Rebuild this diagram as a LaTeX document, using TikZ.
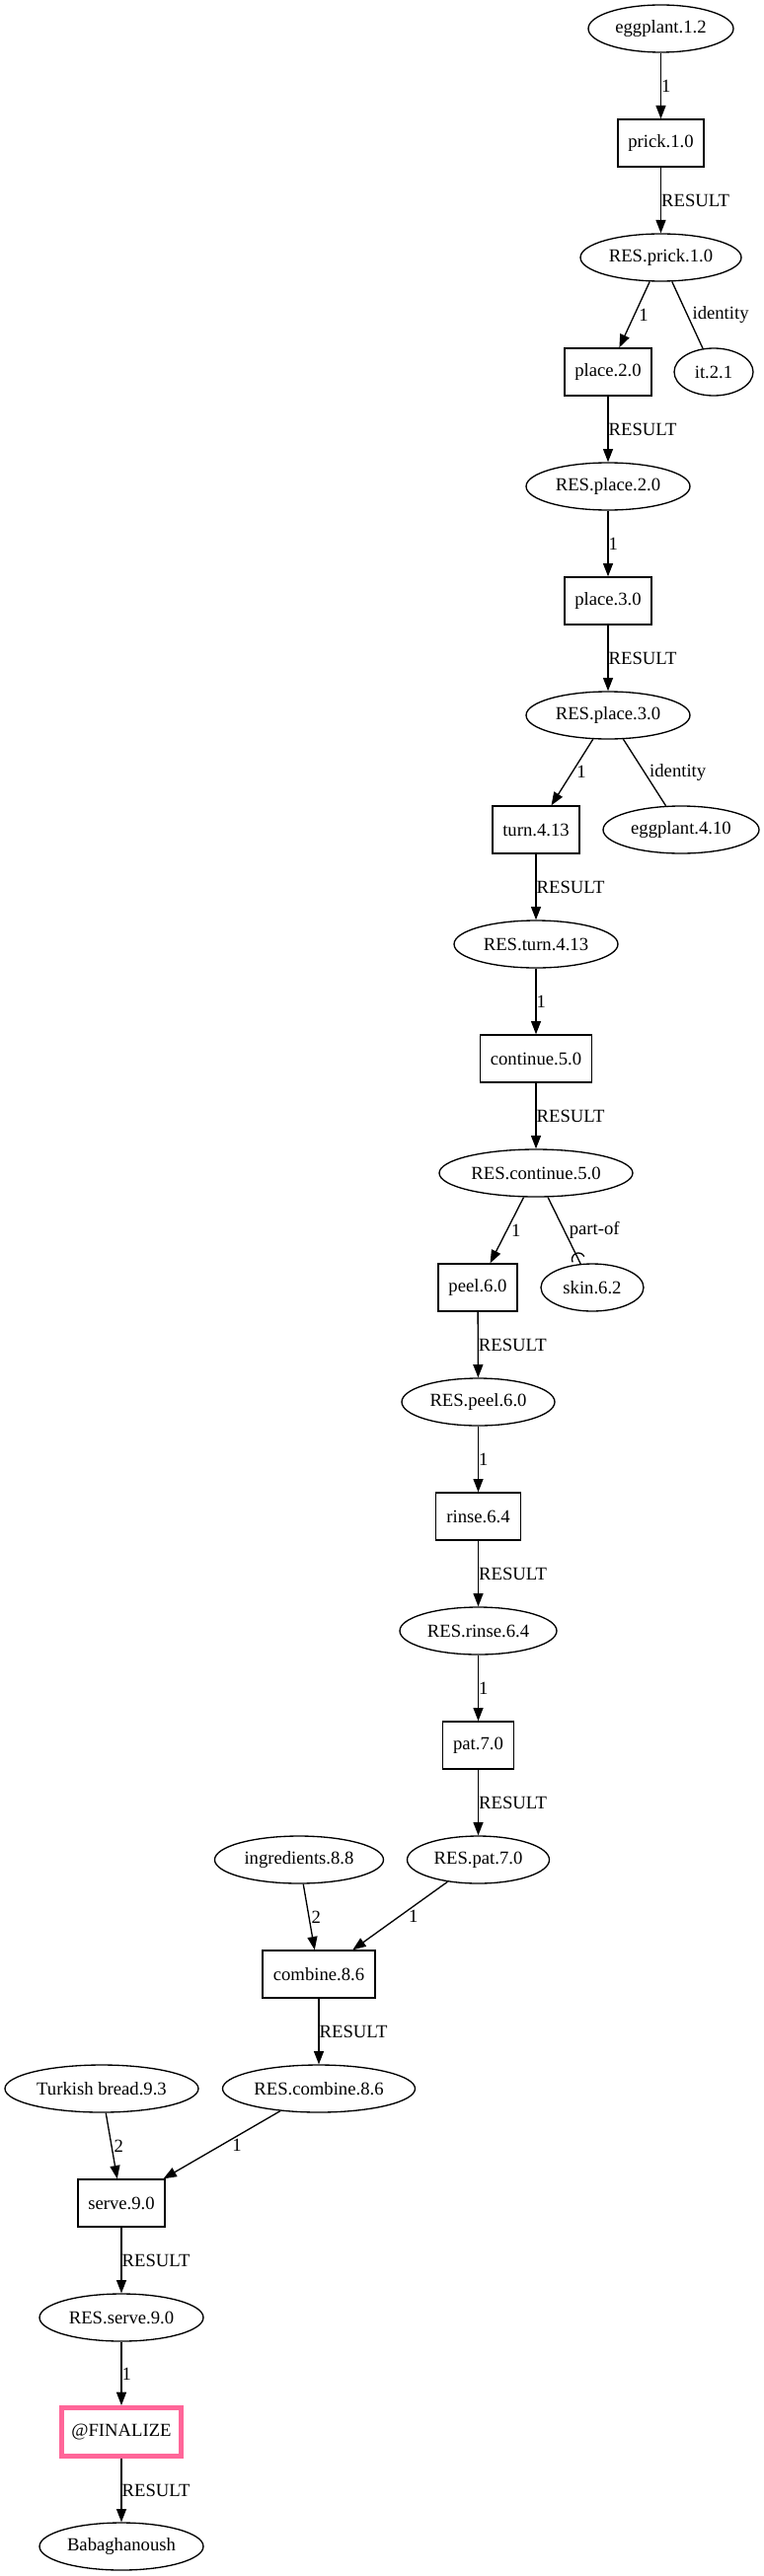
\documentclass[tikz,border=0pt]{standalone}
\usepackage{fontspec}
\setmainfont{Liberation Serif}
\usetikzlibrary{shapes.geometric,arrows.meta,decorations.markings}
\definecolor{finpink}{HTML}{FF6699}
\tikzset{
  gv/.style={draw, line width=1pt, inner sep=0pt, minimum height=36pt, font=\fontsize{14pt}{16pt}\selectfont},
  ent/.style={gv, ellipse},
  act/.style={gv, rectangle},
  lbl/.style={anchor=west, inner sep=0pt, font=\fontsize{14pt}{16pt}\selectfont},
  rel/.style={draw, line width=1pt, -{Triangle[length=10pt,width=7.5pt]}},
  plain/.style={draw, line width=1pt},
  curvetip/.style={plain, postaction={decorate, decoration={markings,
    mark=at position 1 with {\draw[line width=1pt] (-5,6.5) arc[start angle=90, end angle=270, radius=6.5];}}}}
}
\begin{document}
\begin{tikzpicture}[x=0.75pt, y=-0.75pt]
  \useasboundingbox (0,0) rectangle (774,2611);
  % entities (ellipses)
  \foreach \nm/\x/\y/\w/\txt in {egg1/669.5/29/147/eggplant.1.2, resprick/669.5/261/163/RES.prick.1.0,
      it/723/377/80/it.2.1, resplace2/616/493/166/RES.place.2.0, resplace3/616/725/166/RES.place.3.0,
      egg4/690/841/158/eggplant.4.10, resturn/543/957/166/RES.turn.4.13, rescont/543/1189/196/RES.continue.5.0,
      skin/600/1305/104/skin.6.2, respeel/484.5/1421/155/RES.peel.6.0, resrinse/484.5/1653/159/RES.rinse.6.4,
      ingr/303/1885/171/ingredients.8.8, respat/484.5/1885/144/RES.pat.7.0, turkish/103/2117/196/Turkish bread.9.3,
      rescomb/323/2117/195/RES.combine.8.6, resserve/123/2349/166/RES.serve.9.0, baba/123/2581/166/Babaghanoush}
    \node[ent, minimum width=\w*0.75pt] (\nm) at (\x,\y) {\txt};
  % actions (boxes)
  \foreach \nm/\x/\y/\w/\txt in {prick/669.5/145/87/prick.1.0, place2/616/377/88/place.2.0, place3/616/609/88/place.3.0,
      turn/543/841/88/turn.4.13, cont/543/1073/113/continue.5.0, peel/484/1305/80/peel.6.0,
      rinse/484.5/1537/86/rinse.6.4, pat/484.5/1769/72/pat.7.0, comb/323/2001/114/combine.8.6,
      serve/123/2233/88/serve.9.0}
    \node[act, minimum width=\w*0.75pt] (\nm) at (\x,\y) {\txt};
  \node[act, draw=finpink, line width=3.75pt, minimum width=121*0.75pt, minimum height=49*0.75pt] (fin) at (123,2465) {@FINALIZE};
  % arrows with labels
  \foreach \a/\b/\t/\dx in {egg1/prick/1/0, prick/resprick/RESULT/0, resprick/place2/1/4, place2/resplace2/RESULT/0,
      resplace2/place3/1/0, place3/resplace3/RESULT/0, resplace3/turn/1/4, turn/resturn/RESULT/0,
      resturn/cont/1/0, cont/rescont/RESULT/0, rescont/peel/1/4, peel/respeel/RESULT/0,
      respeel/rinse/1/0, rinse/resrinse/RESULT/0, resrinse/pat/1/0, pat/respat/RESULT/0,
      ingr/comb/2/2, respat/comb/1/8, comb/rescomb/RESULT/0, turkish/serve/2/2, rescomb/serve/1/10,
      serve/resserve/RESULT/0, resserve/fin/1/0, fin/baba/RESULT/0}
    \path[rel] (\a) -- node[lbl, xshift=\dx*0.75pt] {\t} (\b);
  % other relations
  \path[plain] (resprick) -- node[lbl, xshift=4.5*0.75pt] {identity} (it);
  \path[plain] (resplace3) -- node[lbl, xshift=4.5*0.75pt] {identity} (egg4);
  \path[curvetip] (rescont) -- node[lbl, xshift=4.5*0.75pt] {part-of} (skin);
\end{tikzpicture}
\end{document}
